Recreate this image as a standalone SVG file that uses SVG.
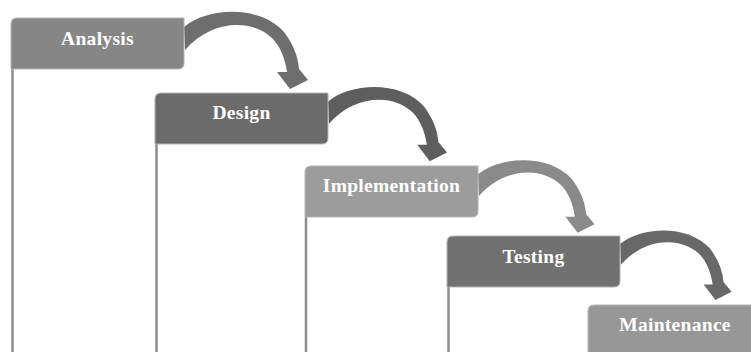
<svg xmlns="http://www.w3.org/2000/svg" xmlns:xlink="http://www.w3.org/1999/xlink" width="751" height="352" viewBox="0 0 751 352">
  <style>
    .lbl { font-family: "Liberation Serif", "Times New Roman", serif; font-weight: bold; font-size: 19.5px; fill: #ffffff; text-anchor: middle; letter-spacing: 0.3px; }
    .box { stroke: #b4b4b4; stroke-width: 1; }
    .rail { stroke: #8e8e8e; stroke-width: 2.5; fill: none; }
    .a1 { fill: #6e6e6e; }
    .a2 { fill: #5e5e5e; }
    .a3 { fill: #8a8a8a; }
    .a4 { fill: #686868; }
  </style>
  <defs>
    <path id="arrow" d="M 0,9 C 24,-11 76,-13 100,14 C 109,26 114,38 115,51 L 124,62 L 106,71 L 93,54 L 103,54 C 101,40 96,28 88,20 C 68,1 28,1 1,32 Z"/>
  </defs>
  <rect width="751" height="352" fill="#ffffff"/>

  <g id="connectors">
    <use xlink:href="#arrow" class="a1" transform="translate(184,18)"/>
    <use xlink:href="#arrow" class="a2" transform="translate(328,93) scale(0.96)"/>
    <use xlink:href="#arrow" class="a3" transform="translate(478,166) scale(0.94)"/>
    <use xlink:href="#arrow" class="a4" transform="translate(620,236) scale(0.9)"/>
  </g>

  <g id="analysis">
    <line class="rail" x1="12.5" y1="69" x2="12.5" y2="352"/>
    <path class="box" fill="#868686" d="M 11,24 Q 11,18 17,18 H 184 V 63 Q 184,69 178,69 H 11 Z"/>
    <text class="lbl" x="97.5" y="45">Analysis</text>
  </g>

  <g id="design">
    <line class="rail" x1="156.5" y1="143" x2="156.5" y2="352"/>
    <path class="box" fill="#6b6b6b" d="M 155,99 Q 155,93 161,93 H 328 V 138 Q 328,144 322,144 H 155 Z"/>
    <text class="lbl" x="241.5" y="118.5">Design</text>
  </g>

  <g id="implementation">
    <line class="rail" x1="306" y1="217" x2="306" y2="352"/>
    <path class="box" fill="#9c9c9c" d="M 305,172 Q 305,166 311,166 H 478 V 211 Q 478,217 472,217 H 305 Z"/>
    <text class="lbl" x="391.5" y="192">Implementation</text>
  </g>

  <g id="testing">
    <line class="rail" x1="448.5" y1="287" x2="448.5" y2="352"/>
    <path class="box" fill="#717171" d="M 447,242 Q 447,236 453,236 H 620 V 281 Q 620,287 614,287 H 447 Z"/>
    <text class="lbl" x="533.5" y="263">Testing</text>
  </g>

  <g id="maintenance">
    <path class="box" fill="#979797" d="M 588,311 Q 588,305 594,305 H 761 V 360 H 588 Z"/>
    <text class="lbl" x="675" y="331">Maintenance</text>
  </g>
</svg>
